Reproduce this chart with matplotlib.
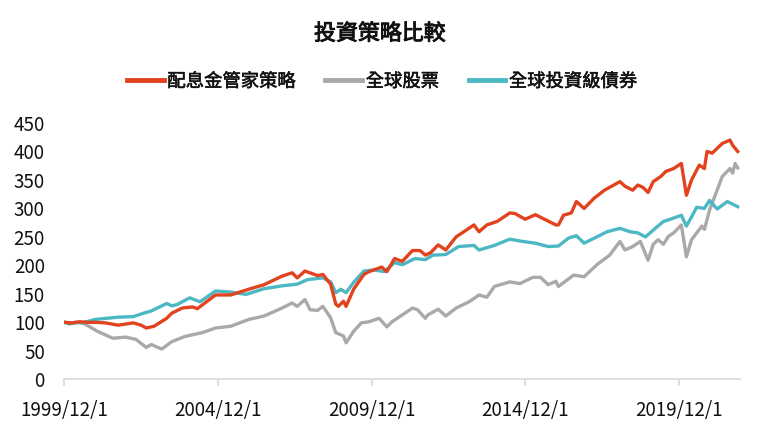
import matplotlib
matplotlib.use("Agg")
import matplotlib.pyplot as plt
import matplotlib.patheffects as pe
import pandas as pd

plt.rcParams['font.family'] = ['Noto Sans CJK TC', 'DejaVu Sans']

title = "投資策略比較"
series_names = ["配息金管家策略", "全球股票", "全球投資級債券"]

red_dates = ["1999-12", "2000-03", "2000-06", "2000-09", "2000-12", "2001-04", "2001-09", "2002-03",
             "2002-06", "2002-08", "2002-11", "2003-04", "2003-06", "2003-10", "2004-02", "2004-04",
             "2004-11", "2005-05", "2005-12", "2006-06", "2007-01", "2007-05", "2007-07", "2007-10",
             "2008-03", "2008-05", "2008-08", "2008-10", "2008-11", "2009-01", "2009-02", "2009-05",
             "2009-09", "2009-11", "2010-04", "2010-06", "2010-09", "2010-12", "2011-04", "2011-07",
             "2011-09", "2011-11", "2012-02", "2012-05", "2012-09", "2013-01", "2013-04", "2013-06",
             "2013-09", "2014-01", "2014-06", "2014-08", "2014-12", "2015-04", "2015-08", "2015-12",
             "2016-01", "2016-03", "2016-06", "2016-08", "2016-11", "2017-03", "2017-07", "2018-01",
             "2018-03", "2018-06", "2018-08", "2018-10", "2018-12", "2019-02", "2019-05", "2019-07",
             "2019-10", "2020-01", "2020-03", "2020-05", "2020-08", "2020-10", "2020-11", "2021-01",
             "2021-05", "2021-08", "2021-09", "2021-11"]
red_vals = [100, 99, 101, 100, 100, 99, 95, 99,
            95, 90, 93, 107, 116, 125, 127, 124,
            148, 148, 158, 166, 181, 187, 178, 190,
            182, 184, 167, 132, 128, 137, 128, 158,
            184, 189, 197, 189, 212, 207, 226, 226,
            218, 222, 236, 227, 250, 262, 271, 259,
            271, 277, 292, 291, 281, 289, 280, 271,
            271, 288, 292, 312, 300, 318, 332, 347,
            339, 332, 341, 337, 328, 347, 356, 365,
            370, 379, 323, 350, 376, 370, 400, 397,
            414, 420, 411, 400]

gray_dates = ["1999-12", "2000-03", "2000-06", "2000-08", "2001-01", "2001-07", "2001-12", "2002-04",
              "2002-08", "2002-10", "2003-02", "2003-06", "2003-11", "2004-06", "2004-11", "2005-05",
              "2005-12", "2006-06", "2007-01", "2007-05", "2007-07", "2007-10", "2007-12", "2008-03",
              "2008-05", "2008-08", "2008-10", "2009-01", "2009-02", "2009-05", "2009-08", "2009-11",
              "2010-03", "2010-06", "2010-08", "2010-12", "2011-04", "2011-06", "2011-09", "2011-10",
              "2012-02", "2012-05", "2012-09", "2013-02", "2013-06", "2013-09", "2013-12", "2014-06",
              "2014-10", "2015-03", "2015-06", "2015-09", "2015-12", "2016-01", "2016-07", "2016-11",
              "2017-04", "2017-09", "2018-01", "2018-03", "2018-06", "2018-09", "2018-12", "2019-02",
              "2019-04", "2019-06", "2019-08", "2019-10", "2020-01", "2020-03", "2020-05", "2020-09",
              "2020-10", "2020-12", "2021-03", "2021-05", "2021-08", "2021-09", "2021-10", "2021-11"]
gray_vals = [100, 98, 100, 97, 84, 72, 74, 70,
             56, 61, 53, 66, 75, 82, 90, 93,
             105, 111, 125, 134, 128, 140, 122, 121,
             128, 108, 82, 76, 64, 84, 99, 101,
             107, 92, 101, 113, 125, 122, 107, 113,
             123, 111, 125, 136, 148, 144, 163, 171,
             168, 179, 179, 166, 172, 163, 183, 180,
             201, 218, 242, 227, 233, 242, 209, 237,
             245, 237, 251, 257, 271, 215, 245, 269,
             263, 297, 332, 356, 370, 362, 379, 371]

teal_dates = ["1999-12", "2000-02", "2000-04", "2000-07", "2000-12", "2001-09", "2002-03", "2002-07",
              "2002-10", "2003-04", "2003-06", "2003-08", "2004-01", "2004-05", "2004-11", "2005-05",
              "2005-11", "2006-06", "2007-01", "2007-07", "2007-11", "2008-05", "2008-08", "2008-10",
              "2008-12", "2009-02", "2009-05", "2009-09", "2010-01", "2010-05", "2010-09", "2010-12",
              "2011-05", "2011-09", "2011-12", "2012-05", "2012-10", "2013-04", "2013-06", "2013-12",
              "2014-06", "2014-11", "2015-04", "2015-09", "2016-01", "2016-05", "2016-08", "2016-11",
              "2017-04", "2017-08", "2018-01", "2018-05", "2018-08", "2018-11", "2019-02", "2019-06",
              "2019-10", "2020-01", "2020-03", "2020-05", "2020-07", "2020-10", "2020-12", "2021-03",
              "2021-07", "2021-11"]
teal_vals = [100, 97, 100, 99, 105, 109, 110, 116,
             120, 133, 129, 131, 143, 136, 155, 153,
             149, 159, 164, 167, 175, 178, 171, 152,
             158, 152, 170, 190, 192, 189, 205, 201,
             212, 210, 218, 219, 233, 235, 227, 235,
             246, 242, 239, 233, 234, 248, 252, 239,
             250, 259, 265, 259, 257, 250, 262, 277,
             283, 288, 269, 285, 302, 300, 314, 299,
             312, 303]

tick_labels = ["1999/12/1", "2004/12/1", "2009/12/1", "2014/12/1", "2019/12/1"]

colors = ["#E2431E", "#A9A9A9", "#4CB8C4"]

fig = plt.figure(figsize=(7.6, 4.3), dpi=100)
ax = fig.add_axes([0.0846, 0.118, 0.8894, 0.596])

for name, d, v, c, z in [(series_names[0], red_dates, red_vals, colors[0], 3),
                         (series_names[1], gray_dates, gray_vals, colors[1], 2),
                         (series_names[2], teal_dates, teal_vals, colors[2], 2.5)]:
    ax.plot(pd.to_datetime(d), v, color=c, lw=2.4, label=name, solid_joinstyle='round', zorder=z)

ax.set_ylim(0, 450)
ax.set_yticks(range(0, 451, 50))
ax.set_xlim(pd.Timestamp("1999-12-01"), pd.Timestamp("2021-12-01"))
tick_pos = pd.to_datetime([t.replace("/", "-") for t in tick_labels])
ax.set_xticks(tick_pos)
ax.set_xticklabels(tick_labels)

for s in ["top", "right", "left"]:
    ax.spines[s].set_visible(False)
ax.spines["bottom"].set_color("#D9D9D9")
ax.spines["bottom"].set_linewidth(1.2)
ax.tick_params(axis="y", length=0, pad=14, labelsize=13.5, labelcolor="#111111")
ax.tick_params(axis="x", length=5, width=1.2, color="#D9D9D9", pad=10, labelsize=13.5, labelcolor="#111111")

medium = [pe.Stroke(linewidth=0.7, foreground="#111111"), pe.Normal()]
fig.text(0.5, 0.921, title, ha="center", va="center", fontsize=15.8,
         color="#111111", path_effects=medium)

leg = fig.legend(loc="center", bbox_to_anchor=(0.503, 0.81), ncol=3, frameon=False,
                 fontsize=13.2, handlelength=2.0, handletextpad=0.2, columnspacing=1.6)
for line in leg.get_lines():
    line.set_linewidth(3.5)
for t in leg.get_texts():
    t.set_color("#111111")
    t.set_path_effects([pe.Stroke(linewidth=0.4, foreground="#111111"), pe.Normal()])

fig.savefig("out.png", dpi=100)
